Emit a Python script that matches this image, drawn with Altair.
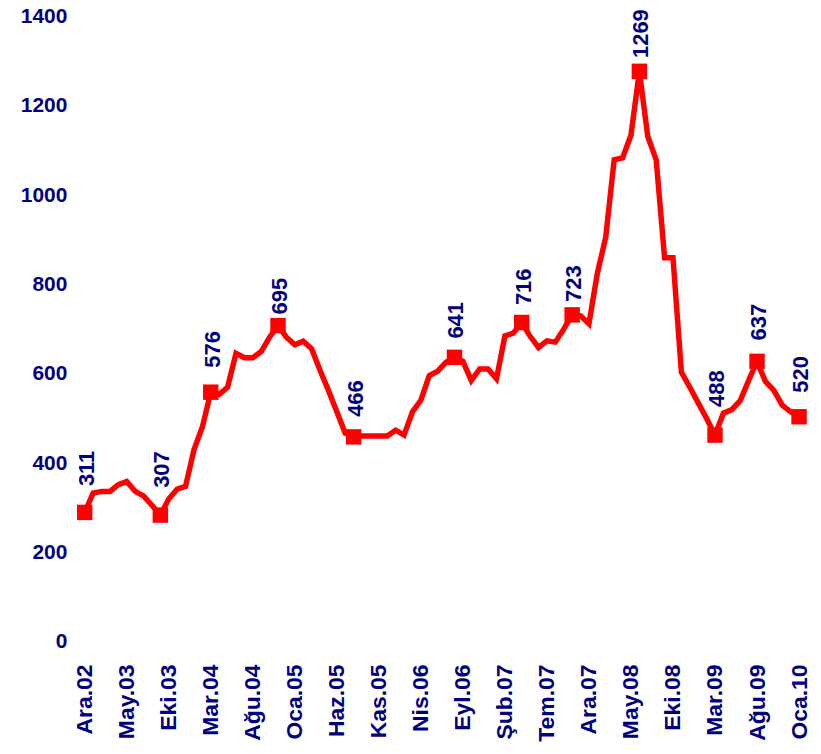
import altair as alt
import pandas as pd

# Turkish month abbreviations, series starts Ara.02 (Dec 2002), ends Oca.10
month_abbr = ["Oca", "Şub", "Mar", "Nis", "May", "Haz", "Tem", "Ağu", "Eyl", "Eki", "Kas", "Ara"]
months = [f"{month_abbr[(11 + i) % 12]}.{(2002 + (11 + i) // 12) % 100:02d}" for i in range(86)]

values = [
    290, 333, 337, 337, 352, 359, 337, 327, 306, 284,
    320, 342, 348, 430, 481, 559, 554, 570, 646, 636,
    636, 650, 682, 708, 682, 665, 673, 656, 608, 563,
    515, 467, 459, 461, 461, 461, 461, 474, 463, 515,
    541, 596, 606, 626, 637, 628, 585, 611, 611, 589,
    685, 691, 715, 684, 659, 674, 671, 700, 732, 730,
    712, 825, 906, 1079, 1083, 1134, 1277, 1131, 1079, 860,
    860, 604, 570, 535, 500, 463, 512, 520, 540, 585,
    628, 583, 563, 530, 515, 504,
]

tick_labels = ["Ara.02", "May.03", "Eki.03", "Mar.04", "Ağu.04", "Oca.05", "Haz.05", "Kas.05",
               "Nis.06", "Eyl.06", "Şub.07", "Tem.07", "Ara.07", "May.08", "Eki.08", "Mar.09",
               "Ağu.09", "Oca.10"]

marker_idx = [0, 9, 15, 23, 32, 44, 52, 58, 66, 75, 80, 85]
marker_labels = [311, 307, 576, 695, 466, 641, 716, 723, 1269, 488, 637, 520]

NAVY = "#000080"
RED = "#FF0000"
FONT = "Liberation Sans"

line_df = pd.DataFrame({"month": months, "value": values})
mk_df = pd.DataFrame({
    "month": [months[i] for i in marker_idx],
    "value": [values[i] for i in marker_idx],
    "label": marker_labels,
})

x = alt.X(
    "month:O",
    scale=alt.Scale(domain=months, padding=0),
    axis=alt.Axis(
        values=tick_labels, labelAngle=270, title=None, ticks=False, tickSize=0,
        domain=False, grid=False, labelFont=FONT, labelFontSize=23, labelFontWeight="bold",
        labelColor=NAVY, labelPadding=22, labelOverlap=False, labelBound=False,
    ),
)
y = alt.Y(
    "value:Q",
    scale=alt.Scale(domain=[0, 1400], nice=False, zero=True),
    axis=alt.Axis(
        values=[0, 200, 400, 600, 800, 1000, 1200, 1400], format="d", title=None,
        ticks=False, tickSize=0, domain=False, grid=False, labelFont=FONT,
        labelFontSize=21, labelFontWeight="bold", labelColor=NAVY, labelPadding=18,
        labelOverlap=False,
    ),
)

line = alt.Chart(line_df).mark_line(color=RED, strokeWidth=5.5).encode(x=x, y=y)
pts = alt.Chart(mk_df).mark_square(color=RED, size=240, opacity=1, filled=True).encode(x=x, y=y)
txt = alt.Chart(mk_df).mark_text(
    angle=270, align="left", baseline="middle", dx=17, dy=2,
    font=FONT, fontSize=22, fontWeight="bold", color=NAVY,
).encode(x=x, y=alt.Y("label:Q"), text="label:Q")

chart = alt.layer(line, pts, txt).properties(
    width=717, height=628,
    autosize=alt.AutoSizeParams(type="none"),
    padding={"left": 77, "top": 7, "right": 14, "bottom": 100},
    background="white",
).configure_view(stroke=None)

chart.save("out.html", embed_options={"renderer": "svg", "actions": False})
